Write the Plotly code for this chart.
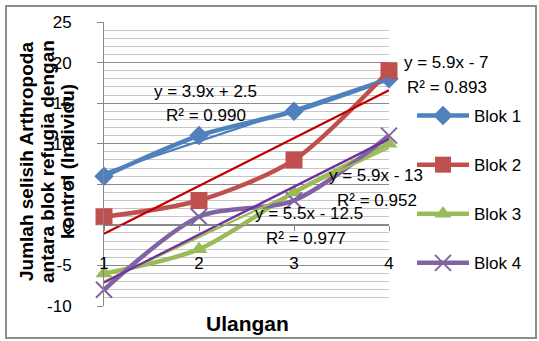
import plotly.graph_objects as go

categories = [1, 2, 3, 4]
category_labels = ["1", "2", "3", "4"]
blok1 = [6, 11, 14, 18]
blok2 = [1, 3, 8, 19]
blok3 = [-6, -3, 4, 10]
blok4 = [-8, 1, 3, 11]
series_names = ["Blok 1", "Blok 2", "Blok 3", "Blok 4"]

# trendline coefficients as printed on the chart
slopes = [3.9, 5.9, 5.5, 5.9]
intercepts = [2.5, -7, -12.5, -13]
eq_texts = ["y = 3.9x + 2.5", "y = 5.9x - 7", "y = 5.5x - 12.5", "y = 5.9x - 13"]
r2_texts = ["R² = 0.990", "R² = 0.893", "R² = 0.977", "R² = 0.952"]

y_ticks = [-10, -5, 0, 5, 10, 15, 20, 25]
y_tick_labels = ["-10", "-5", "0", "5", "10", "15", "20", "25"]

y_title_lines = ["Jumlah selisih Arthropoda", "antara blok refugia dengan", "kontrol (Individu)"]
x_title = "Ulangan"

colors = ["#4F81BD", "#C0504D", "#9BBB59", "#8064A2"]
trend_colors = ["#4F81BD", "#C00000", "#9BBB59", "#7030A0"]
symbols = ["diamond", "square", "triangle-up", "x-thin-open"]
msizes = [15, 17, 15, 16]

FONT = "Liberation Sans"
PL, PR, PT, PB = 104, 389, 22, 306  # plot area in pixels
PW, PH = PR - PL, PB - PT


def px(x):
    return (x - PL) / PW


def py(y):
    return (PB - y) / PH


fig = go.Figure()

data = [blok1, blok2, blok3, blok4]
for i, vals in enumerate(data):
    mk = dict(symbol=symbols[i], size=msizes[i], color=colors[i])
    if symbols[i] == "x-thin-open":
        mk["line"] = dict(color=colors[i], width=2)
    fig.add_trace(go.Scatter(
        x=categories, y=vals, name=series_names[i], mode="lines+markers",
        line=dict(color=colors[i], width=4.5, shape="spline", smoothing=0.8),
        marker=mk, legendgroup=series_names[i], cliponaxis=False))

for i in [0, 2, 1, 3]:
    xs = [categories[0], categories[-1]]
    ys = [slopes[i] * x + intercepts[i] for x in xs]
    fig.add_trace(go.Scatter(
        x=xs, y=ys, mode="lines", showlegend=False,
        line=dict(color=trend_colors[i], width=2.3), cliponaxis=False))

# equation labels (pixel centres)
eq_pos = [((205, 91), (206, 115)), ((446, 62), (447, 87)),
          ((309, 213), (306, 238)), ((376, 175), (377, 200))]
for i, ((ex, ey), (rx, ry)) in enumerate(eq_pos):
    fig.add_annotation(xref="paper", yref="paper", x=px(ex), y=py(ey),
                       xanchor="center", yanchor="middle", text=eq_texts[i],
                       showarrow=False, font=dict(family=FONT, size=17, color="black"))
    fig.add_annotation(xref="paper", yref="paper", x=px(rx), y=py(ry),
                       xanchor="center", yanchor="middle", text=r2_texts[i],
                       showarrow=False, font=dict(family=FONT, size=17, color="black"))

# axis titles
for k, (line_txt, cx) in enumerate(zip(y_title_lines, [26, 47, 67])):
    fig.add_annotation(xref="paper", yref="paper", x=px(cx), y=py(162),
                       xanchor="center", yanchor="middle", textangle=-90,
                       text="<b>%s</b>" % line_txt, showarrow=False,
                       font=dict(family=FONT, size=19, color="black"))
fig.add_annotation(xref="paper", yref="paper", x=px(247), y=py(323),
                   xanchor="center", yanchor="middle", text="<b>%s</b>" % x_title,
                   showarrow=False, font=dict(family=FONT, size=21, color="black"))

# outer border
fig.add_shape(type="rect", xref="paper", yref="paper",
              x0=px(6), x1=px(536), y0=py(338), y1=py(6),
              line=dict(color="#8C8C8C", width=2), layer="above")

fig.update_layout(
    width=539, height=341,
    margin=dict(l=PL, r=539 - PR, t=PT, b=341 - PB),
    paper_bgcolor="white", plot_bgcolor="white",
    font=dict(family=FONT, color="black"),
    legend=dict(x=px(412), y=py(98), xanchor="left", yanchor="top",
                font=dict(family=FONT, size=17, color="black"),
                tracegroupgap=24, bgcolor="rgba(0,0,0,0)", itemwidth=52),
    xaxis=dict(range=[1, 4], tickvals=categories, ticktext=category_labels,
               showgrid=False, zeroline=False, showline=True, linecolor="#868686",
               anchor="free", position=py(225), ticks="outside", ticklen=5,
               tickcolor="#868686", ticklabelstandoff=18,
               tickfont=dict(family=FONT, size=17, color="black")),
    yaxis=dict(range=[-10, 25], tickvals=y_ticks, ticktext=y_tick_labels,
               showgrid=True, gridcolor="#8A8A8A", gridwidth=1,
               minor=dict(dtick=1, showgrid=True, gridcolor="#C6C6C6", gridwidth=1),
               zeroline=False, showline=True, linecolor="#868686",
               ticks="outside", ticklen=6, tickcolor="#868686",
               ticklabelstandoff=22,
               tickfont=dict(family=FONT, size=17, color="black")),
    showlegend=True,
)

fig.write_html("out.html", config={"displayModeBar": False},
               post_script="document.body.style.margin='0px';document.body.style.overflow='hidden';")
